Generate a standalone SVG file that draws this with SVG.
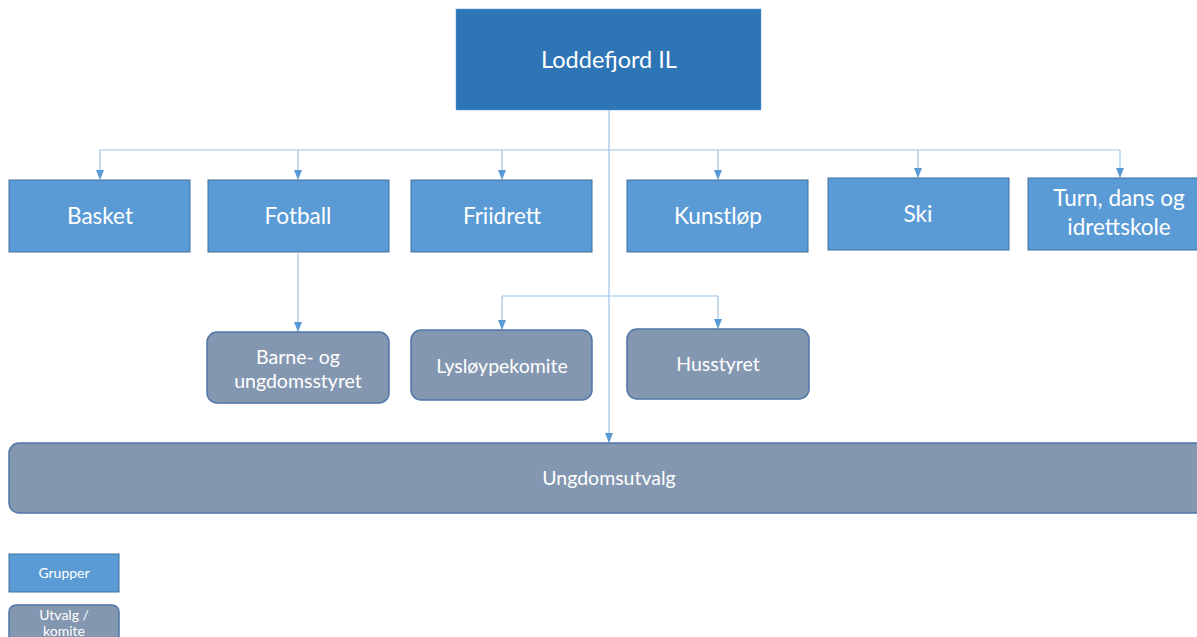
<svg xmlns="http://www.w3.org/2000/svg" width="1197" height="637" viewBox="0 0 1197 637">
<style>
  .grp { fill: #5B9BD5; stroke: #41719C; stroke-width: 1; }
  .utv { fill: #8497B0; stroke: #4F76A8; stroke-width: 1.5; }
  .top { fill: #2E75B6; stroke: #5B9BD5; stroke-width: 0.5; }
  .t { font-family: Lato, "Open Sans", "Liberation Sans", sans-serif; fill: #FFFFFF; text-anchor: middle; }
  .conn { fill: none; stroke: #9DC3E6; stroke-width: 1.2; }
</style>
<defs>
  <marker id="arr" markerWidth="10" markerHeight="8" refX="9" refY="4" orient="auto" markerUnits="userSpaceOnUse">
    <path d="M0,0 L10,4 L0,8 z" fill="#5B9BD5"/>
  </marker>
</defs>
<rect width="1197" height="637" fill="#FFFFFF"/>
<g id="connectors">
  <path class="conn" d="M609,110 V442" marker-end="url(#arr)"/>
  <path class="conn" d="M100,150 H1120"/>
  <path class="conn" d="M100,150 V179" marker-end="url(#arr)"/>
  <path class="conn" d="M298,150 V179" marker-end="url(#arr)"/>
  <path class="conn" d="M502,150 V179" marker-end="url(#arr)"/>
  <path class="conn" d="M718,150 V179" marker-end="url(#arr)"/>
  <path class="conn" d="M918,150 V177" marker-end="url(#arr)"/>
  <path class="conn" d="M1120,150 V177" marker-end="url(#arr)"/>
  <path class="conn" d="M298,253 V331" marker-end="url(#arr)"/>
  <path class="conn" d="M502,296 H718"/>
  <path class="conn" d="M502,296 V329" marker-end="url(#arr)"/>
  <path class="conn" d="M718,296 V328" marker-end="url(#arr)"/>
</g>
<g id="loddefjord">
  <rect class="top" x="456" y="9" width="305" height="101"/>
  <text class="t" x="609" y="68" font-size="23.5">Loddefjord IL</text>
</g>
<g id="basket">
  <rect class="grp" x="9" y="180" width="181" height="72"/>
  <text class="t" x="100" y="224" font-size="22.5">Basket</text>
</g>
<g id="fotball">
  <rect class="grp" x="208" y="180" width="181" height="72"/>
  <text class="t" x="298" y="224" font-size="22.5">Fotball</text>
</g>
<g id="friidrett">
  <rect class="grp" x="411" y="180" width="181" height="72"/>
  <text class="t" x="502" y="224" font-size="22.5">Friidrett</text>
</g>
<g id="kunstlop">
  <rect class="grp" x="627" y="180" width="181" height="72"/>
  <text class="t" x="718" y="224" font-size="22.5">Kunstløp</text>
</g>
<g id="ski">
  <rect class="grp" x="828" y="178" width="181" height="72"/>
  <text class="t" x="918" y="222" font-size="22.5">Ski</text>
</g>
<g id="turn">
  <rect class="grp" x="1028" y="178" width="175" height="72"/>
  <text class="t" x="1119" y="206" font-size="22.5">Turn, dans og</text>
  <text class="t" x="1119" y="235" font-size="22.5">idrettskole</text>
</g>
<g id="barne">
  <rect class="utv" x="207" y="332" width="182" height="71" rx="10"/>
  <text class="t" x="298" y="364" font-size="19.5">Barne- og</text>
  <text class="t" x="298" y="388" font-size="19.5">ungdomsstyret</text>
</g>
<g id="lysloype">
  <rect class="utv" x="411" y="330" width="181" height="70" rx="10"/>
  <text class="t" x="502" y="373" font-size="19.5">Lysløypekomite</text>
</g>
<g id="husstyret">
  <rect class="utv" x="627" y="329" width="182" height="70" rx="10"/>
  <text class="t" x="718" y="371" font-size="19.5">Husstyret</text>
</g>
<g id="ungdomsutvalg">
  <rect class="utv" x="9" y="443" width="1200" height="70" rx="10"/>
  <text class="t" x="609" y="485" font-size="19.5">Ungdomsutvalg</text>
</g>
<g id="legend-grupper">
  <rect class="grp" x="9" y="554" width="110" height="38"/>
  <text class="t" x="64" y="578" font-size="14">Grupper</text>
</g>
<g id="legend-utvalg">
  <rect class="utv" x="9" y="605" width="110" height="45" rx="7"/>
  <text class="t" x="64" y="620" font-size="14">Utvalg /</text>
  <text class="t" x="64" y="636" font-size="14">komite</text>
</g>
</svg>
